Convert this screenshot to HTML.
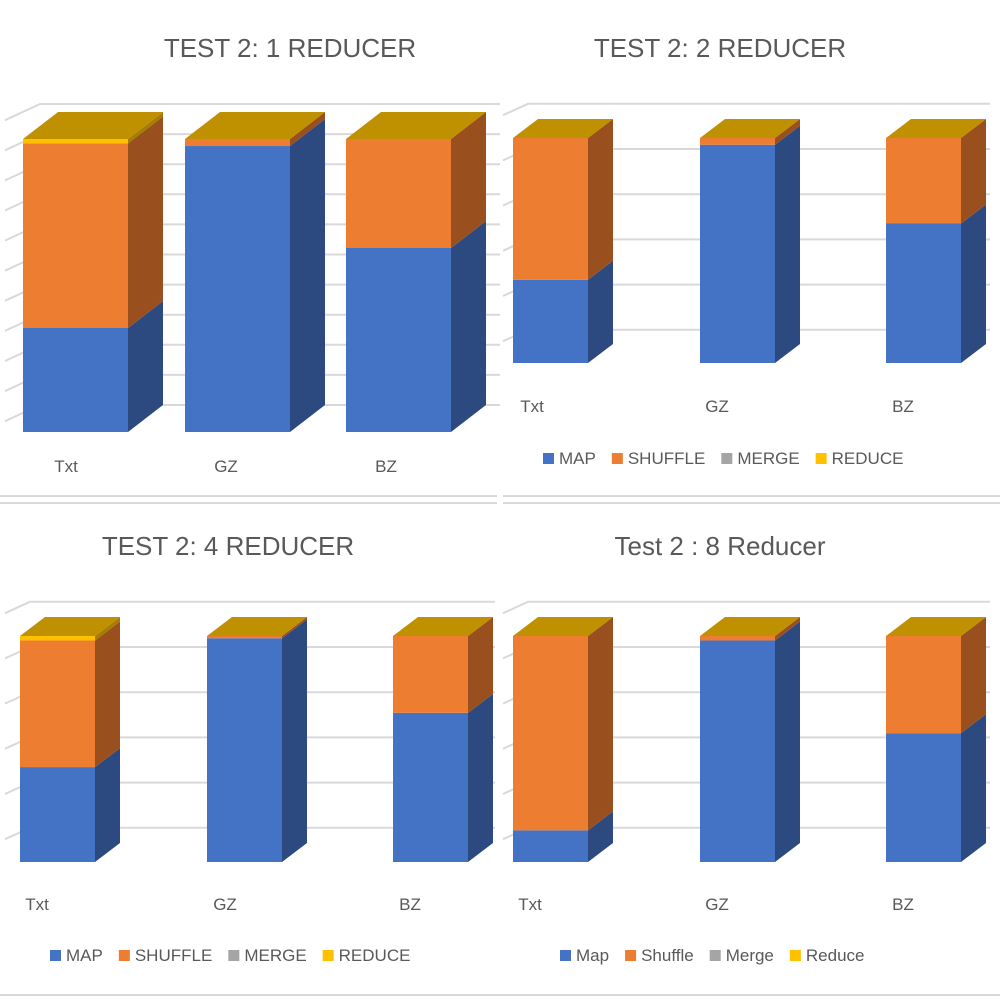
<!DOCTYPE html>
<html><head><meta charset="utf-8"><style>
html,body{margin:0;padding:0;background:#fff;}
svg{display:block;font-family:"Liberation Sans",sans-serif;}
</style></head><body>
<svg id="c" width="1000" height="1000" viewBox="0 0 1000 1000">
<rect x="0" y="0" width="1000" height="1000" fill="#fff"/>
<line x1="0" y1="496" x2="497" y2="496" stroke="#d9d9d9" stroke-width="2"/>
<line x1="0" y1="503" x2="497" y2="503" stroke="#d9d9d9" stroke-width="2"/>
<line x1="503" y1="496" x2="1000" y2="496" stroke="#d9d9d9" stroke-width="2"/>
<line x1="503" y1="503" x2="1000" y2="503" stroke="#d9d9d9" stroke-width="2"/>
<line x1="0" y1="995" x2="1000" y2="995" stroke="#d9d9d9" stroke-width="2"/>
</svg>
<script>
const categories = ["Txt","GZ","BZ"];
const titles = ["TEST 2: 1 REDUCER","TEST 2: 2 REDUCER","TEST 2: 4 REDUCER","Test 2 : 8 Reducer"];
const mapVals1 = [35.5, 97.6, 62.8];
const shuffleVals1 = [63, 2.4, 37.2];
const mergeVals1 = [0, 0, 0];
const reduceVals1 = [1.5, 0, 0];
const mapVals2 = [37, 97, 62];
const shuffleVals2 = [63, 3, 38];
const mergeVals2 = [0, 0, 0];
const reduceVals2 = [0, 0, 0];
const mapVals4 = [42, 99, 66];
const shuffleVals4 = [56, 1, 34];
const mergeVals4 = [0, 0, 0];
const reduceVals4 = [2, 0, 0];
const mapVals8 = [14, 98, 57];
const shuffleVals8 = [86, 2, 43];
const mergeVals8 = [0, 0, 0];
const reduceVals8 = [0, 0, 0];
const legendUpper = ["MAP","SHUFFLE","MERGE","REDUCE"];
const legendLower = ["Map","Shuffle","Merge","Reduce"];

const NS="http://www.w3.org/2000/svg";
const svg=document.getElementById('c');
function mk(tag,attrs,parent){const e=document.createElementNS(NS,tag);for(const k in attrs)e.setAttribute(k,attrs[k]);(parent||svg).appendChild(e);return e;}
const front=["#4472c4","#ed7d31","#a5a5a5","#ffc000"];
const side=["#2c4a80","#9a4f1e","#6b6b6b","#a67d00"];
const topC="#bf9000";

const charts=[
 {title:titles[0],tx:290,ty:57,series:[mapVals1,shuffleVals1,mergeVals1,reduceVals1],xs:[23,185,346],w:105,bottom:432,h:293,dx:35,dy:27,gx0:5,gx1:500,gBack:405,gStep:30.1,gN:11,labY:472,labX:[66,226,386],legend:null},
 {title:titles[1],tx:720,ty:57,series:[mapVals2,shuffleVals2,mergeVals2,reduceVals2],xs:[513,700,886],w:75,bottom:363,h:225,dx:25,dy:19,gx0:503,gx1:990,gBack:375,gStep:45.2,gN:6,labY:412,labX:[532,717,903],legend:{x:543,y:464,names:legendUpper}},
 {title:titles[2],tx:228,ty:555,series:[mapVals4,shuffleVals4,mergeVals4,reduceVals4],xs:[20,207,393],w:75,bottom:862,h:226,dx:25,dy:19,gx0:5,gx1:495,gBack:873,gStep:45.2,gN:6,labY:910,labX:[37,225,410],legend:{x:50,y:961,names:legendUpper}},
 {title:titles[3],tx:720,ty:555,series:[mapVals8,shuffleVals8,mergeVals8,reduceVals8],xs:[513,700,886],w:75,bottom:862,h:226,dx:25,dy:19,gx0:503,gx1:990,gBack:873,gStep:45.2,gN:6,labY:910,labX:[530,717,903],legend:{x:560,y:961,names:legendLower}}
];

charts.forEach((c,ci)=>{
  const g=mk('g',{});
  
  
  const t=mk('text',{x:c.tx,y:c.ty,'text-anchor':'middle','font-size':26,fill:'#595959'},g);
  t.textContent=c.title;
  
  
  for(let k=0;k<c.gN;k++){
    const y=c.gBack-(c.gN===11?k:k+1)*c.gStep;
    if(y<90&&ci<2)continue;
    const ln=mk('polyline',{points:(c.gx0)+','+(y+c.dy*0.6)+' '+(c.gx0+c.dx)+','+y+' '+c.gx1+','+y,fill:'none',stroke:'#d9d9d9','stroke-width':2},g);
    
    
  }
  const yScale=v=>v/100*c.h;
  categories.forEach((cat,i)=>{
    let base=c.bottom;
    const x=c.xs[i];
    c.series.forEach((s,si)=>{
      const v=s[i]; if(v<=0)return;
      const hh=yScale(v); const y0=base-hh;
      const fr=mk('rect',{x:x,y:y0,width:c.w,height:hh,fill:front[si]},g);
      
      
      const sd=mk('polygon',{points:`${x+c.w},${base} ${x+c.w+c.dx},${base-c.dy} ${x+c.w+c.dx},${y0-c.dy} ${x+c.w},${y0}`,fill:side[si]},g);
      
      
      base=y0;
    });
    const tp=mk('polygon',{points:`${x},${base} ${x+c.dx},${base-c.dy} ${x+c.w+c.dx},${base-c.dy} ${x+c.w},${base}`,fill:topC},g);
    
    
    const lb=mk('text',{x:c.labX[i],y:c.labY,'text-anchor':'middle','font-size':17,fill:'#595959'},g);
    lb.textContent=cat;
    
    
  });
  if(c.legend){
    let lx=c.legend.x;
    c.legend.names.forEach((n,si)=>{
      const sw=mk('rect',{x:lx,y:c.legend.y-11,width:11,height:11,fill:front[si]},g);
      
      
      const lt=mk('text',{x:lx+16,y:c.legend.y,'font-size':17,fill:'#595959'},g);
      lt.textContent=n;
      
      
      lx+=16+lt.getComputedTextLength()+16;
    });
  }
});
</script>
</body></html>
